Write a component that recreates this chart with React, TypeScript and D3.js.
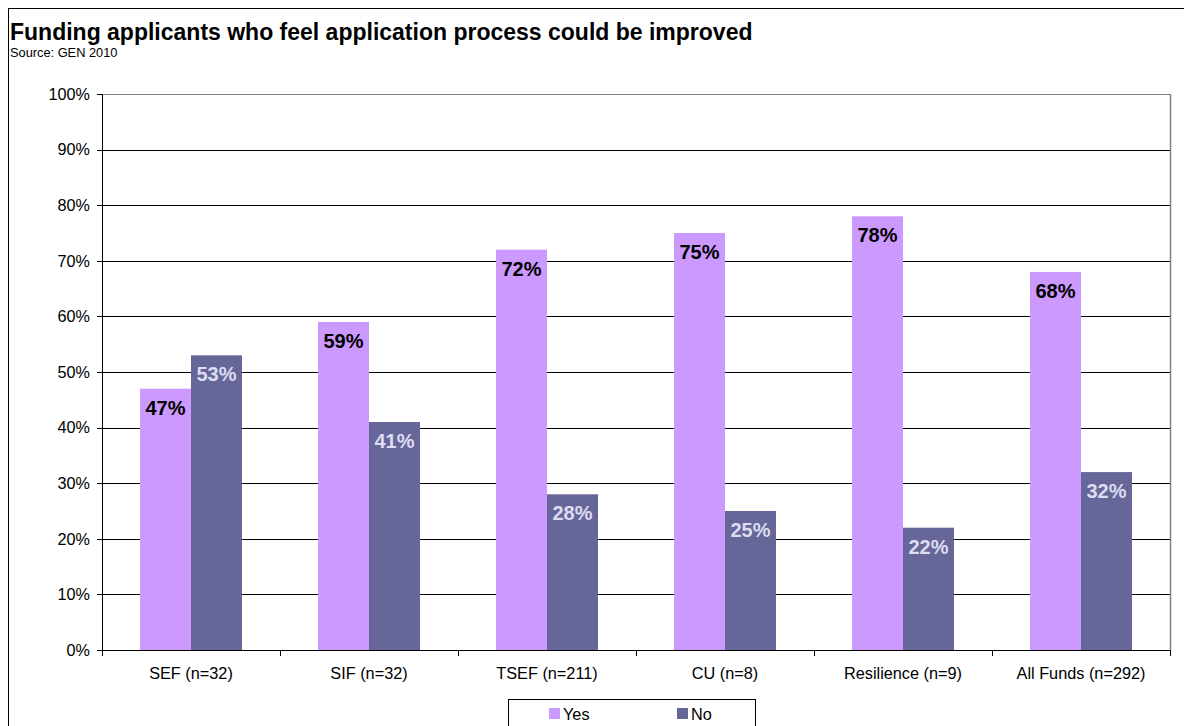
import React from "react";
import * as d3 from "d3";

// Chart data
const categories = ["SEF (n=32)", "SIF (n=32)", "TSEF (n=211)", "CU (n=8)", "Resilience (n=9)", "All Funds (n=292)"];
const seriesNames = ["Yes", "No"];
const yesValues = [47, 59, 72, 75, 78, 68];
const noValues = [53, 41, 28, 25, 22, 32];
const yTicks = [0, 10, 20, 30, 40, 50, 60, 70, 80, 90, 100];

const colors: Record<string, string> = { Yes: "#cc99ff", No: "#666699" };
const labelColors: Record<string, string> = { Yes: "#000000", No: "#dcdcf2" };

const W = 1184;
const H = 726;
const plot = { left: 102, top: 94, right: 1170, bottom: 650 };
const font = "Arial, 'Liberation Sans', Helvetica, sans-serif";

export default function App() {
  const x = d3.scaleBand<string>().domain(categories).range([plot.left, plot.right]).paddingInner(0).paddingOuter(0);
  const y = d3.scaleLinear().domain([0, 100]).range([plot.bottom, plot.top]);
  const barW = 51;
  const inner = d3.scaleBand<string>().domain(seriesNames).range([0, barW * 2]);

  const values: Record<string, number[]> = { Yes: yesValues, No: noValues };

  return (
    <div style={{ position: "fixed", left: 0, top: 0 }}>
      <svg width={W} height={H} style={{ display: "block", fontFamily: font }}>
        <rect x={0} y={0} width={W} height={H} fill="#fff" />
        {/* outer chart frame */}
        <rect x={8.5} y={8.5} width={W + 20} height={H + 20} fill="none" stroke="#000" strokeWidth={1} />

        <text x={10} y={40} fontSize={23} fontWeight="bold" fill="#000">
          Funding applicants who feel application process could be improved
        </text>
        <text x={10} y={57} fontSize={12.8} fill="#000">
          Source: GEN 2010
        </text>

        {/* gridlines */}
        {yTicks.map((t) => (
          <line
            key={"g" + t}
            x1={plot.left}
            x2={plot.right}
            y1={Math.round(y(t)) + 0.5}
            y2={Math.round(y(t)) + 0.5}
            stroke={t === 100 ? "#808080" : "#000"}
            strokeWidth={1}
          />
        ))}
        {/* plot area right border */}
        <line x1={plot.right + 0.5} x2={plot.right + 0.5} y1={plot.top} y2={plot.bottom} stroke="#808080" strokeWidth={1.5} />

        {/* bars */}
        {categories.map((c, i) => {
          const gx = (x(c) as number) + x.bandwidth() / 2 - barW;
          return seriesNames.map((s) => {
            const v = values[s][i];
            const bx = gx + (inner(s) as number);
            const by = y(v);
            return (
              <g key={c + s}>
                <rect x={bx} y={by} width={inner.bandwidth()} height={y(0) - by} fill={colors[s]} />
                <text
                  x={bx + inner.bandwidth() / 2}
                  y={by + 26}
                  textAnchor="middle"
                  fontSize={20}
                  fontWeight="bold"
                  fill={labelColors[s]}
                >
                  {v}%
                </text>
              </g>
            );
          });
        })}

        {/* y axis */}
        <line x1={plot.left + 0.5} x2={plot.left + 0.5} y1={plot.top} y2={plot.bottom + 1} stroke="#000" strokeWidth={1} />
        {yTicks.map((t) => (
          <g key={"yt" + t}>
            <line x1={plot.left - 5} x2={plot.left} y1={Math.round(y(t)) + 0.5} y2={Math.round(y(t)) + 0.5} stroke="#000" />
            <text x={plot.left - 12} y={y(t) + 5.8} textAnchor="end" fontSize={16.2} fill="#000">
              {t}%
            </text>
          </g>
        ))}

        {/* x axis */}
        <line x1={plot.left} x2={plot.right + 1} y1={plot.bottom + 0.5} y2={plot.bottom + 0.5} stroke="#000" strokeWidth={1} />
        {[...categories.map((c) => x(c) as number), plot.right].map((px, i) => (
          <line key={"xt" + i} x1={Math.round(px) + 0.5} x2={Math.round(px) + 0.5} y1={plot.bottom} y2={plot.bottom + 6} stroke="#000" />
        ))}
        {categories.map((c) => (
          <text key={"xl" + c} x={(x(c) as number) + x.bandwidth() / 2} y={679} textAnchor="middle" fontSize={16.3} fill="#000">
            {c}
          </text>
        ))}

        {/* legend */}
        <rect x={508.5} y={699.5} width={247} height={40} fill="#fff" stroke="#000" strokeWidth={1} />
        {seriesNames.map((s, i) => {
          const lx = i === 0 ? 549 : 677;
          return (
            <g key={"lg" + s}>
              <rect x={lx} y={708} width={11} height={11} fill={colors[s]} />
              <text x={lx + 14} y={720} fontSize={16.3} fill="#000">
                {s}
              </text>
            </g>
          );
        })}
      </svg>
    </div>
  );
}
